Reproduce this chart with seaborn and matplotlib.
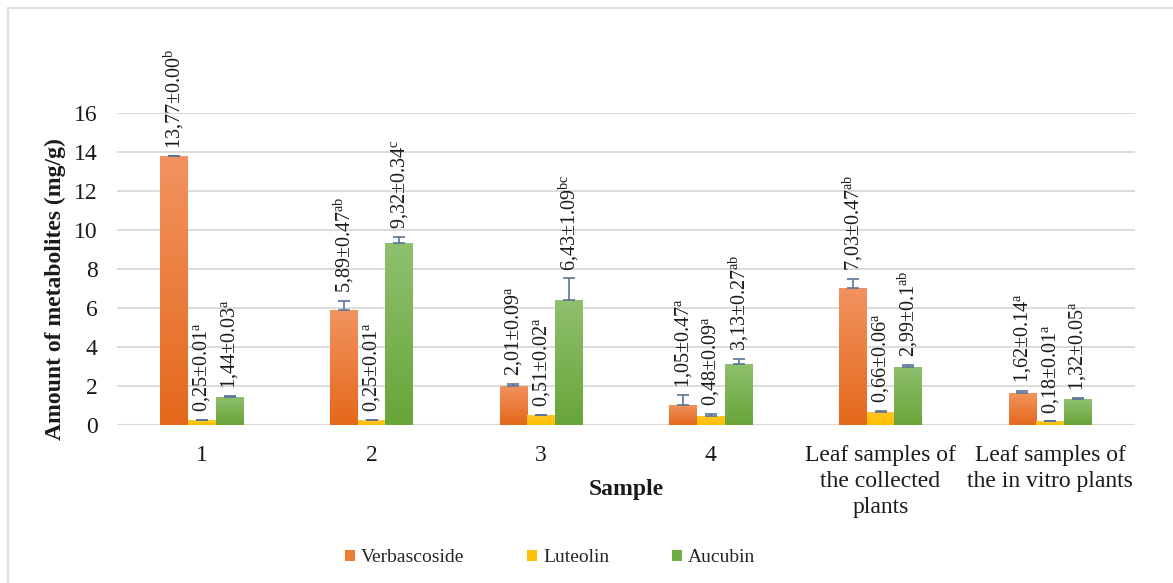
import numpy as np
import pandas as pd
import matplotlib
matplotlib.use("Agg")
import matplotlib.pyplot as plt
import seaborn as sns
from matplotlib.patches import Rectangle
from matplotlib.lines import Line2D
from matplotlib.colors import to_rgb

# ---------------- data ----------------
samples = ["1", "2", "3", "4",
           "Leaf samples of\nthe collected\nplants",
           "Leaf samples of\nthe in vitro plants"]
compounds = ["Verbascoside", "Luteolin", "Aucubin"]

verbascoside = [13.77, 5.89, 2.01, 1.05, 7.03, 1.62]
verbascoside_err = ["0.00", "0.47", "0.09", "0.47", "0.47", "0.14"]
verbascoside_sig = ["b", "ab", "a", "a", "ab", "a"]

luteolin = [0.25, 0.25, 0.51, 0.48, 0.66, 0.18]
luteolin_err = ["0.01", "0.01", "0.02", "0.09", "0.06", "0.01"]
luteolin_sig = ["a", "a", "a", "a", "a", "a"]

aucubin = [1.44, 9.32, 6.43, 3.13, 2.99, 1.32]
aucubin_err = ["0.03", "0.34", "1.09", "0.27", "0.1", "0.05"]
aucubin_sig = ["a", "c", "bc", "ab", "ab", "a"]

values = [verbascoside, luteolin, aucubin]
errors = [verbascoside_err, luteolin_err, aucubin_err]
sigs = [verbascoside_sig, luteolin_sig, aucubin_sig]

y_ticks = [0, 2, 4, 6, 8, 10, 12, 14, 16]

# ---------------- style ----------------
sns.set_theme(style="white")
plt.rcParams["font.family"] = ["Liberation Serif", "DejaVu Serif"]
plt.rcParams["mathtext.fontset"] = "custom"
plt.rcParams["mathtext.rm"] = "Liberation Serif"
plt.rcParams["mathtext.it"] = "Liberation Serif:italic"
plt.rcParams["mathtext.bf"] = "Liberation Serif:bold"

base_colors = ["#ED7D31", "#FFC000", "#70AD47"]
grad_top = ["#F2935F", "#FFC62A", "#8FC06E"]
grad_bottom = ["#E4681B", "#FFBE00", "#68A539"]
err_color = "#5B7497"
grid_color = "#D9D9D9"
text_color = "#1a1a1a"

rows = []
for c, vals in zip(compounds, values):
    for s, v in zip(samples, vals):
        rows.append({"Sample": s, "Compound": c, "value": v})
df = pd.DataFrame(rows)

fig = plt.figure(figsize=(11.73, 5.83), dpi=100)
W, H = 1173, 583
ax = fig.add_axes([117 / W, 158 / H, (1135 - 117) / W, (425 - 113) / H])

sns.barplot(data=df, x="Sample", y="value", hue="Compound",
            order=samples, hue_order=compounds, palette=base_colors,
            width=0.49, gap=0, errorbar=None, legend=False, ax=ax,
            linewidth=0, zorder=2)

bar_containers = list(ax.containers)

ax.set_ylim(0, 16)
xlim = ax.get_xlim()
ylim = ax.get_ylim()

# gradient fill clipped to each bar
for i, cont in enumerate(bar_containers):
    top = np.array(to_rgb(grad_top[i]))
    bot = np.array(to_rgb(grad_bottom[i]))
    grad = np.linspace(0, 1, 64)[:, None]
    img = top[None, None, :] * (1 - grad[:, :, None]) + bot[None, None, :] * grad[:, :, None]
    for p in cont.patches:
        x0, y0, w, h = p.get_x(), p.get_y(), p.get_width(), p.get_height()
        if h <= 0:
            continue
        im = ax.imshow(img, extent=[x0, x0 + w, y0, y0 + h], aspect="auto",
                       origin="upper", zorder=2.1, interpolation="bilinear")
        im.set_clip_path(p)

ax.set_xlim(xlim)
ax.set_ylim(ylim)
ax.set_aspect("auto")

# error bars (plus direction) and value labels
for i, cont in enumerate(bar_containers):
    xs = [p.get_x() + p.get_width() / 2 for p in cont.patches]
    ys = values[i]
    es = [float(e) for e in errors[i]]
    ax.errorbar(xs, ys, yerr=[np.zeros(len(es)), es], fmt="none",
                ecolor=err_color, elinewidth=1.2, capsize=4.3, capthick=1.2,
                zorder=3)
    for x, v, e, etxt, sg in zip(xs, ys, es, errors[i], sigs[i]):
        label = f"{v:.2f}".replace(".", ",") + "±" + etxt + r"$^{\mathrm{" + sg + "}}$"
        ax.annotate(label, xy=(x, v + e), xytext=(0, 5.5), textcoords="offset points",
                    rotation=90, ha="center", va="bottom", fontsize=14.5,
                    color=text_color, annotation_clip=False, zorder=4)

# axes styling
ax.set_yticks(y_ticks)
ax.yaxis.grid(True, color=grid_color, linewidth=1.3, zorder=0)
ax.xaxis.grid(False)
ax.set_axisbelow(True)
for s in ax.spines.values():
    s.set_visible(False)
ax.axhline(0, color=grid_color, linewidth=1.5, zorder=1)
ax.tick_params(axis="y", length=0, pad=14, labelsize=17, labelcolor=text_color)
ax.tick_params(axis="x", length=0, pad=14.5, labelsize=17, labelcolor=text_color)
for t in ax.get_xticklabels():
    t.set_linespacing(1.3)
    t.set_multialignment("center")

ax.set_xlabel("Sample", fontsize=17, fontweight="bold", color=text_color, va="center")
ax.xaxis.set_label_coords(0.5, -(489 - 425) / 312)
ax.set_ylabel("Amount of metabolites (mg/g)", fontsize=17, fontweight="bold",
              color=text_color, va="center")
ax.yaxis.set_label_coords((55 - 117) / 1018, (425 - 289.5) / 312)

# legend
handles = [Rectangle((0, 0), 1, 1, facecolor=c, edgecolor="none") for c in base_colors]
fig.legend(handles, compounds, loc="center", bbox_to_anchor=(550 / W, 1 - 558 / H),
           ncol=3, frameon=False, fontsize=14, handlelength=0.55, handleheight=0.55,
           handletextpad=0.3, columnspacing=3.2, borderpad=0)

# outer border (top and left)
fig.add_artist(Line2D([8 / W, 1], [1 - 8 / H, 1 - 8 / H], color="#DCE1E8", linewidth=1.6))
fig.add_artist(Line2D([8 / W, 8 / W], [0, 1 - 8 / H], color="#DCE1E8", linewidth=1.6))

fig.savefig("out.png", dpi=100, facecolor="white")
